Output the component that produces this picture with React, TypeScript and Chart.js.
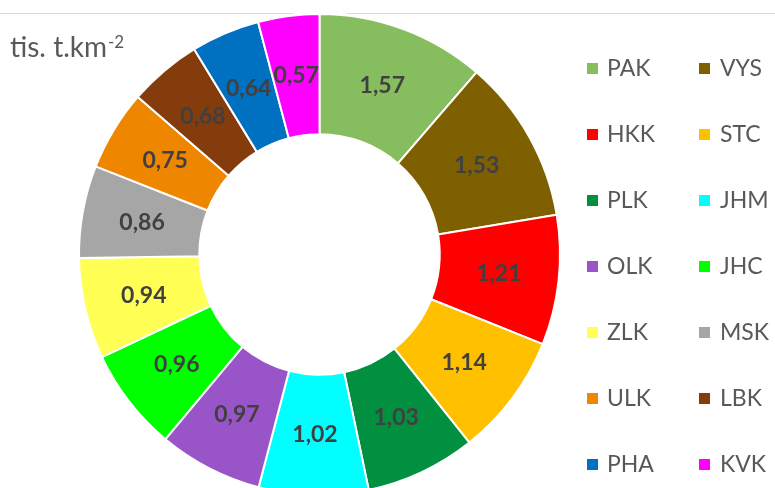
import React, { useEffect, useRef } from "react";
import { Chart, registerables } from "chart.js";

Chart.register(...registerables);

const categories = ["PAK", "VYS", "HKK", "STC", "PLK", "JHM", "OLK", "JHC", "ZLK", "MSK", "ULK", "LBK", "PHA", "KVK"];
const values = [1.57, 1.53, 1.21, 1.14, 1.03, 1.02, 0.97, 0.96, 0.94, 0.86, 0.75, 0.68, 0.64, 0.57];
const colors = [
  "#86BD5E", "#7F6000", "#FF0000", "#FFC000", "#00903F", "#00FFFF", "#9955C8",
  "#00FF00", "#FFFF55", "#A6A6A6", "#EE8600", "#843C0C", "#0070C0", "#FF00FF",
];
const unitMain = "tis. t.km";
const unitSup = "-2";

const FONT = "Lato, 'Open Sans', sans-serif";

const decorPlugin = {
  id: "decor",
  beforeDraw(chart: any) {
    const ctx = chart.ctx;
    ctx.save();
    ctx.strokeStyle = "#D9D9D9";
    ctx.lineWidth = 1;
    ctx.beginPath();
    ctx.moveTo(0, 13.5);
    ctx.lineTo(293, 13.5);
    ctx.moveTo(347, 13.5);
    ctx.lineTo(775, 13.5);
    ctx.stroke();
    ctx.restore();
  },
  afterDatasetsDraw(chart: any) {
    const ctx = chart.ctx;
    const meta = chart.getDatasetMeta(0);
    ctx.save();
    ctx.fillStyle = "#404040";
    ctx.font = `bold 23px ${FONT}`;
    ctx.textAlign = "center";
    ctx.textBaseline = "middle";
    meta.data.forEach((arc: any, i: number) => {
      const p = arc.getCenterPoint();
      const v = chart.data.datasets[0].data[i] as number;
      ctx.fillText(v.toFixed(2).replace(".", ","), p.x, p.y);
    });
    ctx.restore();
  },
  afterDraw(chart: any) {
    const ctx = chart.ctx;
    ctx.save();
    // unit title
    ctx.fillStyle = "#595959";
    ctx.textBaseline = "alphabetic";
    ctx.textAlign = "left";
    ctx.font = `28px ${FONT}`;
    ctx.fillText(unitMain, 10, 57);
    const w = ctx.measureText(unitMain).width;
    ctx.font = `17px ${FONT}`;
    ctx.fillText(unitSup, 10 + w + 1, 48);
    // legend
    const labels = chart.data.labels as string[];
    const bg = chart.data.datasets[0].backgroundColor as string[];
    ctx.font = `23px ${FONT}`;
    ctx.textBaseline = "middle";
    labels.forEach((lab, i) => {
      const col = i % 2;
      const row = Math.floor(i / 2);
      const mx = col === 0 ? 587 : 699;
      const tx = col === 0 ? 607 : 720;
      const cy = 68 + row * 66;
      ctx.fillStyle = bg[i];
      ctx.fillRect(mx, cy - 5, 11, 11);
      ctx.fillStyle = "#595959";
      ctx.fillText(lab, tx, cy + 1);
    });
    ctx.restore();
  },
};

export default function App() {
  const ref = useRef<HTMLCanvasElement>(null);
  useEffect(() => {
    if (!ref.current) return;
    const chart = new Chart(ref.current, {
      type: "doughnut",
      data: {
        labels: categories,
        datasets: [
          {
            data: values,
            backgroundColor: colors,
            borderColor: "#FFFFFF",
            borderWidth: 2,
            hoverOffset: 0,
          },
        ],
      },
      options: {
        responsive: false,
        animation: false,
        devicePixelRatio: 1,
        cutout: "50%",
        layout: { padding: { left: 78, right: 214, top: 13, bottom: 4 } },
        plugins: {
          legend: { display: false },
          tooltip: { enabled: false },
          title: { display: false },
        },
      },
      plugins: [decorPlugin],
    });
    return () => chart.destroy();
  }, []);
  return (
    <div style={{ position: "absolute", left: 0, top: 0, width: 775, height: 488, overflow: "hidden", background: "#fff" }}>
      <canvas ref={ref} width={775} height={500} style={{ width: 775, height: 500, display: "block" }} />
    </div>
  );
}
